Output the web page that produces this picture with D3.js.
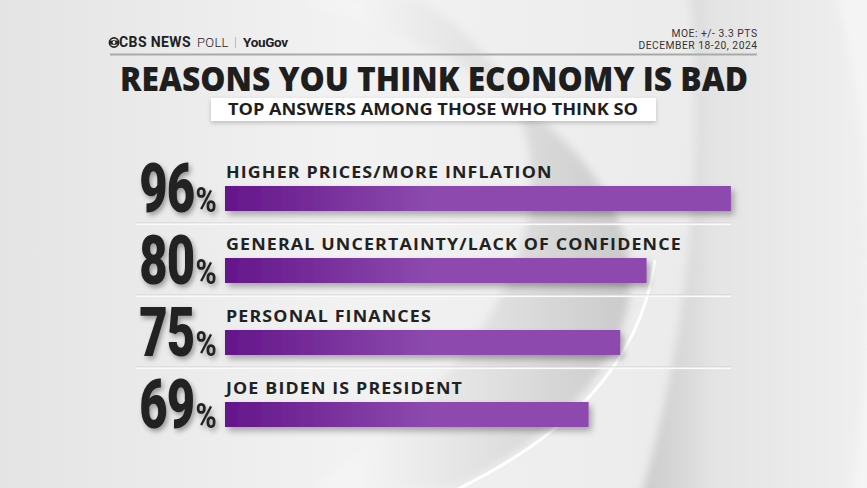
<!DOCTYPE html>
<html><head><meta charset="utf-8">
<script src="https://cdn.jsdelivr.net/npm/d3@7/dist/d3.min.js"></script>
<style>
html,body{margin:0;padding:0;background:#e8e8e8;}
svg{display:block;}
</style></head>
<body><div id="chart"></div>
<script>
const categories = ["HIGHER PRICES/MORE INFLATION","GENERAL UNCERTAINTY/LACK OF CONFIDENCE","PERSONAL FINANCES","JOE BIDEN IS PRESIDENT"];
const values = [96, 80, 75, 69];
const title = "REASONS YOU THINK ECONOMY IS BAD";
const subtitle = "TOP ANSWERS AMONG THOSE WHO THINK SO";
const moe = "MOE: +/- 3.3 PTS";
const dates = "DECEMBER 18-20, 2024";

const W = 867, H = 488;
const svg = d3.select("#chart").append("svg").attr("width", W).attr("height", H);
const defs = svg.append("defs");

function lg(id, stops, attrs) {
  const g = defs.append("linearGradient").attr("id", id);
  Object.entries(attrs || {x1:0,x2:1,y1:0,y2:0}).forEach(([k,v]) => g.attr(k, v));
  stops.forEach(([o,c,op]) => g.append("stop").attr("offset", o).attr("stop-color", c).attr("stop-opacity", op == null ? 1 : op));
  return g;
}
lg("bg", [[0,"#e4e4e4"],[0.4,"#f2f2f2"],[1,"#e8e8e8"]]);
lg("cres", [[0,"#f4f4f4"],[0.5,"#dcdcdc"],[1,"#c2c2c2"]], {gradientUnits:"userSpaceOnUse", x1:360, x2:680, y1:0, y2:0});
lg("rpanel", [[0,"#cdcdcd"],[0.3,"#e4e4e4"],[1,"#efefef"]], {gradientUnits:"userSpaceOnUse", x1:650, x2:867, y1:0, y2:0});
const blur = defs.append("filter").attr("id","blur").attr("x","-20%").attr("y","-20%").attr("width","140%").attr("height","140%");
blur.append("feGaussianBlur").attr("stdDeviation",4);

svg.append("rect").attr("width",W).attr("height",H).attr("fill","url(#bg)");
// decorative background swooshes
svg.append("path").attr("d","M690,-10 C705,150 690,330 640,500 L880,500 L880,-10 Z").attr("fill","url(#rpanel)").attr("filter","url(#blur)");
svg.append("path").attr("d","M835,-10 C870,120 880,300 850,500 L880,500 L880,-10 Z").attr("fill","#f6f6f6").attr("opacity",0.8).attr("filter","url(#blur)");
svg.append("path").attr("d","M300,0 C640,100 760,330 455,488 L310,488 C560,330 600,110 420,0 Z").attr("fill","url(#cres)").attr("filter","url(#blur)");
svg.append("path").attr("d","M655,260 C640,370 560,440 452,492").attr("fill","none").attr("stroke","#ffffff").attr("stroke-width",3).attr("opacity",0.95);

// bar gradient
lg("barg", [[0,"#64168a"],[1,"#8d4aae"]], {gradientUnits:"userSpaceOnUse", x1:225, x2:430, y1:0, y2:0});

const sh = defs.append("filter").attr("id","sh").attr("x","-10%").attr("y","-30%").attr("width","130%").attr("height","200%");
sh.append("feDropShadow").attr("dx",3).attr("dy",4).attr("stdDeviation",3).attr("flood-color","#000").attr("flood-opacity",0.3);
const sh2 = defs.append("filter").attr("id","sh2").attr("x","-20%").attr("y","-20%").attr("width","150%").attr("height","150%");
sh2.append("feDropShadow").attr("dx",2).attr("dy",3).attr("stdDeviation",2.5).attr("flood-color","#000").attr("flood-opacity",0.35);
const sh3 = defs.append("filter").attr("id","sh3").attr("x","-5%").attr("y","-30%").attr("width","110%").attr("height","200%");
sh3.append("feDropShadow").attr("dx",0).attr("dy",2).attr("stdDeviation",2).attr("flood-color","#000").attr("flood-opacity",0.2);

// header
const hdr = svg.append("g");
hdr.append("circle").attr("cx",114).attr("cy",42.5).attr("r",4.6).attr("fill","none").attr("stroke","#222").attr("stroke-width",1.6);
hdr.append("ellipse").attr("cx",114).attr("cy",42.5).attr("rx",4.4).attr("ry",2.3).attr("fill","#222");
hdr.append("circle").attr("cx",114).attr("cy",42.5).attr("r",1.4).attr("fill","#eee");
hdr.append("text").attr("x",119).attr("y",47.3).attr("font-family","Roboto, sans-serif").attr("font-weight",700)
  .attr("font-size",14).attr("fill","#222").attr("letter-spacing",0.4).text("CBS NEWS");
hdr.append("text").attr("x",197).attr("y",47.3).attr("font-family","Roboto, sans-serif").attr("font-weight",300)
  .attr("font-size",13).attr("fill","#222").attr("letter-spacing",0.3).text("POLL");
hdr.append("line").attr("x1",235.5).attr("x2",235.5).attr("y1",37).attr("y2",48).attr("stroke","#bbb").attr("stroke-width",1);
hdr.append("text").attr("x",243).attr("y",47.3).attr("font-family","Roboto, sans-serif").attr("font-weight",700)
  .attr("font-size",13.5).attr("fill","#222").attr("letter-spacing",-0.3).text("YouGov");
hdr.append("text").attr("x",757.5).attr("y",36.7).attr("text-anchor","end").attr("font-family","Roboto, sans-serif")
  .attr("font-size",10.3).attr("letter-spacing",0.5).attr("fill","#333").text(moe);
hdr.append("text").attr("x",757.5).attr("y",48.5).attr("text-anchor","end").attr("font-family","Roboto, sans-serif")
  .attr("font-size",10.3).attr("letter-spacing",0.5).attr("fill","#333").text(dates);
hdr.append("line").attr("x1",110).attr("x2",757).attr("y1",54.5).attr("y2",54.5).attr("stroke","#a9a9a9").attr("stroke-width",2);

// title
svg.append("text").attr("x",120).attr("y",91).attr("textLength",628).attr("lengthAdjust","spacingAndGlyphs")
  .attr("font-family","'Open Sans', sans-serif").attr("font-weight",800).attr("font-size",34)
  .attr("fill","#1e1e1e").text(title);
svg.append("rect").attr("x",211).attr("y",98).attr("width",445).attr("height",23).attr("fill","#fff").attr("filter","url(#sh3)");
svg.append("text").attr("x",228).attr("y",115).attr("textLength",410).attr("lengthAdjust","spacingAndGlyphs")
  .attr("font-family","'Open Sans', sans-serif").attr("font-weight",700).attr("font-size",16.3)
  .attr("fill","#1e1e1e").text(subtitle);

// scales
const x = d3.scaleLinear().domain([0,100]).range([225, 752]);
const y = d3.scaleBand().domain(categories).range([150, 438]).padding(0);

const rows = svg.selectAll("g.row").data(categories.map((c,i)=>({c, v: values[i], i}))).join("g").attr("class","row")
  .attr("transform", d=>`translate(0,${y(d.c)})`);

// separators
const seps = rows.filter(d=>d.i < categories.length-1);
seps.append("rect").attr("x",136).attr("width",x(96)-136).attr("y",72.5).attr("height",1).attr("fill","#d2d2d2");
seps.append("rect").attr("x",136).attr("width",x(96)-136).attr("y",73.5).attr("height",1.6).attr("fill","#fbfbfb");

rows.append("rect").attr("x",x(0)).attr("y",36).attr("height",25)
  .attr("width", d=>x(d.v)-x(0)).attr("fill","url(#barg)").attr("filter","url(#sh)");

rows.append("text").attr("transform",`translate(${x(0)+1},27.5) scale(1.15,1)`)
  .attr("font-family","'Open Sans', sans-serif").attr("font-weight",700).attr("font-size",15.5)
  .attr("letter-spacing",1).attr("fill","#222").text(d=>d.c);

const num = rows.append("g").attr("filter","url(#sh2)");
num.append("text").attr("transform","translate(194.5,61.7) scale(0.71,1)").attr("text-anchor","end")
  .attr("font-family","Roboto, sans-serif").attr("font-weight",900).attr("font-size",69)
  .attr("letter-spacing",-1).attr("fill","#222").text(d=>d.v);
num.append("text").attr("transform","translate(195.5,61.7) scale(0.82,1)").attr("text-anchor","start")
  .attr("font-family","Roboto, sans-serif").attr("font-weight",700).attr("font-size",35)
  .attr("fill","#222").text("%");
</script>
</body></html>
